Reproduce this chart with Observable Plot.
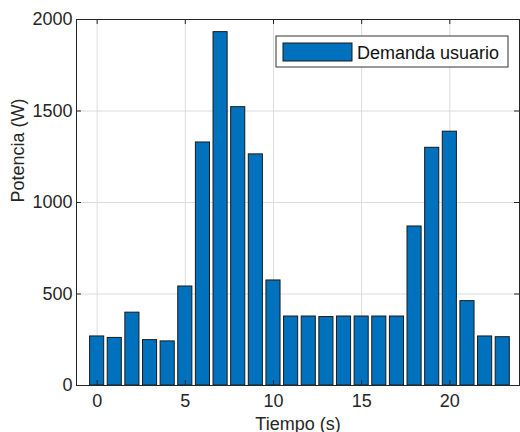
<!DOCTYPE html>
<html>
<head>
<meta charset="utf-8">
<script src="https://cdn.jsdelivr.net/npm/d3@7"></script>
<script src="https://cdn.jsdelivr.net/npm/@observablehq/plot@0.6"></script>
<style>
  body { margin: 0; background: #fff; }
  #chart { width: 520px; height: 432px; }
</style>
</head>
<body>
<div id="chart"></div>
<script>
const tiempo = [0,1,2,3,4,5,6,7,8,9,10,11,12,13,14,15,16,17,18,19,20,21,22,23];
const potencia = [268,260,398,248,241,541,1328,1931,1521,1263,574,377,377,374,377,377,377,377,869,1299,1387,461,268,264];
const xTicks = [0,5,10,15,20];
const yTicks = [0,500,1000,1500,2000];
const seriesName = "Demanda usuario";
const xLabel = "Tiempo (s)";
const yLabel = "Potencia (W)";

const data = tiempo.map((t, i) => ({t, v: potencia[i]}));
const xDom = [-1.17, 23.95];
const yDom = [0, 2000];
const ink = "#262626";
const font = "'Liberation Sans', Arial, Helvetica, sans-serif";
const tickLenX = (xDom[1]-xDom[0]) * 5 / 443;
const tickLenY = (yDom[1]-yDom[0]) * 5 / 366;

const plot = Plot.plot({
  width: 520,
  height: 432,
  marginLeft: 76,
  marginRight: 1,
  marginTop: 19,
  marginBottom: 47,
  style: {fontFamily: font, fontSize: "18px", color: ink, background: "#fff"},
  x: {domain: xDom, ticks: xTicks},
  y: {domain: yDom, ticks: yTicks},
  marks: [
    Plot.gridX(xTicks, {stroke: "#dcdcdc", strokeOpacity: 1}),
    Plot.gridY(yTicks.filter(d => d > 0 && d < 2000), {stroke: "#dcdcdc", strokeOpacity: 1}),
    Plot.rectY(data, {x1: d => d.t - 0.4, x2: d => d.t + 0.4, y1: 0, y2: "v", fill: "#0072BD", stroke: "#1a1a1a", strokeWidth: 1}),
    Plot.ruleX(xTicks, {y1: yDom[0], y2: yDom[0] + tickLenY, stroke: ink}),
    Plot.ruleX(xTicks, {y1: yDom[1], y2: yDom[1] - tickLenY, stroke: ink}),
    Plot.ruleY(yTicks, {x1: xDom[0], x2: xDom[0] + tickLenX, stroke: ink}),
    Plot.ruleY(yTicks, {x1: xDom[1], x2: xDom[1] - tickLenX, stroke: ink}),
    Plot.frame({stroke: ink, strokeWidth: 1}),
    Plot.axisX(xTicks, {tickSize: 0, tickPadding: 9, label: null, fontSize: 18, fill: ink, tickFormat: d3.format("d")}),
    Plot.axisY(yTicks, {tickSize: 0, tickPadding: 4, label: null, fontSize: 18, fill: ink, tickFormat: d3.format("d")}),
    Plot.text([xLabel], {frameAnchor: "bottom", lineAnchor: "bottom", dy: 44, fontSize: 18, fill: ink}),
    Plot.text([yLabel], {frameAnchor: "left", dx: -58, rotate: -90, fontSize: 18, fill: ink})
  ]
});
document.getElementById("chart").appendChild(plot);

// Legend (inside axes, top-right)
const svg = d3.select(plot);
const frameRight = 520 - 1, frameTop = 19;
const lg = svg.append("g").attr("font-family", font).attr("font-size", 18).attr("text-anchor", "start");
const bx = frameRight - 11 - 232, by = frameTop + 17;
lg.append("rect").attr("x", bx).attr("y", by).attr("width", 232).attr("height", 31)
  .attr("fill", "#fff").attr("stroke", "#333").attr("stroke-width", 1);
lg.append("rect").attr("x", bx + 7).attr("y", by + 7).attr("width", 69).attr("height", 18)
  .attr("fill", "#0072BD").attr("stroke", "#1a1a1a").attr("stroke-width", 1);
lg.append("text").attr("x", bx + 81).attr("y", by + 23).attr("fill", "#111").text(seriesName);
</script>
</body>
</html>
